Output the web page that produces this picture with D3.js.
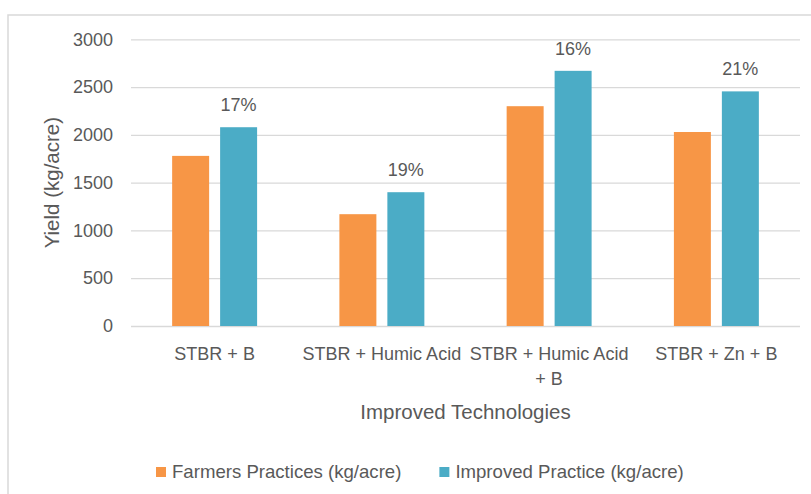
<!DOCTYPE html>
<html>
<head>
<meta charset="utf-8">
<script src="https://cdn.jsdelivr.net/npm/d3@7"></script>
<style>
  html, body { margin: 0; padding: 0; background: #fff; }
  svg text { font-family: "Liberation Sans", Arial, sans-serif; fill: #595959; }
</style>
</head>
<body>
<svg id="chart" width="811" height="494"></svg>
<script>
const categories = ["STBR + B", "STBR + Humic Acid", "STBR + Humic Acid + B", "STBR + Zn + B"];
const seriesNames = ["Farmers Practices (kg/acre)", "Improved Practice (kg/acre)"];
const farmersValues = [1780, 1170, 2300, 2030];
const improvedValues = [2080, 1400, 2670, 2455];
const increaseLabels = ["17%", "19%", "16%", "21%"];
const yTicks = [0, 500, 1000, 1500, 2000, 2500, 3000];
const colors = ["#F79646", "#4BACC6"];

const svg = d3.select("#chart");
const fontSize = 18;
const titleSize = 20.5;

// chart border
svg.append("rect").attr("x", 8).attr("y", 15).attr("width", 820).attr("height", 500)
  .attr("fill", "none").attr("stroke", "#d9d9d9").attr("stroke-width", 1.5);

const plot = { left: 131, right: 800, top: 39.3, bottom: 326 };

const x0 = d3.scaleBand().domain(categories).range([plot.left, plot.right]).paddingInner(0).paddingOuter(0);
const groupW = x0.step() * 0.508;
const x1 = d3.scaleBand().domain(seriesNames)
  .range([(x0.step() - groupW) / 2, (x0.step() + groupW) / 2])
  .paddingInner(0.229).paddingOuter(0);
const y = d3.scaleLinear().domain([0, 3000]).range([plot.bottom, plot.top]);

// gridlines
const yAxis = d3.axisLeft(y).tickValues(yTicks).tickSize(-(plot.right - plot.left)).tickPadding(18).tickFormat(d3.format("d"));
const gy = svg.append("g").attr("transform", `translate(${plot.left},0)`).call(yAxis);
gy.select(".domain").remove();
gy.selectAll(".tick line").attr("stroke", "#d9d9d9").attr("stroke-width", 1.3);
gy.selectAll(".tick text").attr("font-size", fontSize).attr("fill", "#595959").attr("font-family", "Liberation Sans, Arial, sans-serif");

// data rows
const rows = categories.map((c, i) => ({ cat: c, vals: [farmersValues[i], improvedValues[i]], label: increaseLabels[i] }));

const groups = svg.append("g").selectAll("g").data(rows).join("g")
  .attr("transform", d => `translate(${x0(d.cat)},0)`);

groups.selectAll("rect").data(d => d.vals.map((v, j) => ({ name: seriesNames[j], v, j }))).join("rect")
  .attr("x", d => x1(d.name))
  .attr("width", x1.bandwidth())
  .attr("y", d => y(d.v))
  .attr("height", d => y(0) - y(d.v))
  .attr("fill", d => colors[d.j]);

groups.append("text")
  .attr("x", x1(seriesNames[1]) + x1.bandwidth() / 2)
  .attr("y", d => y(d.vals[1]) - 16)
  .attr("text-anchor", "middle")
  .attr("font-size", fontSize)
  .text(d => d.label);

// x-axis labels with wrapping
const xl = svg.append("g");
categories.forEach(c => {
  const t = xl.append("text")
    .attr("x", x0(c) + x0.bandwidth() / 2)
    .attr("y", 360)
    .attr("text-anchor", "middle")
    .attr("font-size", fontSize);
  const words = c.split(" ");
  let line = [];
  let tspan = t.append("tspan").attr("x", x0(c) + x0.bandwidth() / 2).attr("dy", 0);
  words.forEach(w => {
    line.push(w);
    tspan.text(line.join(" "));
    if (tspan.node().getComputedTextLength() > x0.bandwidth() - 4 && line.length > 1) {
      line.pop();
      tspan.text(line.join(" "));
      line = [w];
      tspan = t.append("tspan").attr("x", x0(c) + x0.bandwidth() / 2).attr("dy", 25).text(w);
    }
  });
});

// axis titles
svg.append("text")
  .attr("x", (plot.left + plot.right) / 2)
  .attr("y", 419)
  .attr("text-anchor", "middle")
  .attr("font-size", titleSize)
  .text("Improved Technologies");

svg.append("text")
  .attr("transform", `translate(59,${(plot.top + plot.bottom) / 2}) rotate(-90)`)
  .attr("text-anchor", "middle")
  .attr("font-size", titleSize)
  .text("Yield (kg/acre)");

// legend
const legend = svg.append("g");
let lx = 156;
seriesNames.forEach((n, j) => {
  legend.append("rect").attr("x", lx).attr("y", 467).attr("width", 10).attr("height", 10).attr("fill", colors[j]);
  const t = legend.append("text").attr("x", lx + 16).attr("y", 478).attr("font-size", 18.6).text(n);
  lx = lx + 16 + t.node().getComputedTextLength() + 38;
});
</script>
</body>
</html>
